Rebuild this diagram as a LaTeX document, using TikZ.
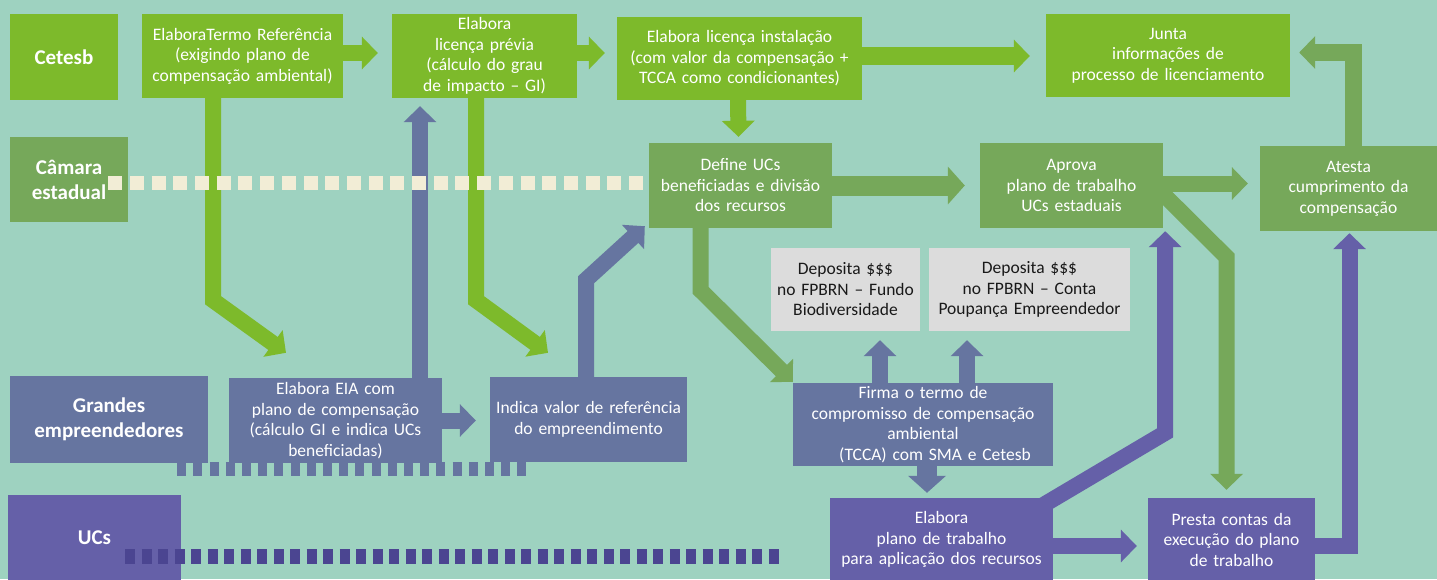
\documentclass[tikz,border=0pt]{standalone}
\usepackage{fontspec}
\setmainfont{Carlito}
\usetikzlibrary{arrows.meta,positioning,calc}
\definecolor{fundo}{HTML}{9ED2C0}
\definecolor{verdeclaro}{HTML}{7DBA2B}
\definecolor{verdeescuro}{HTML}{76A85A}
\definecolor{azul}{HTML}{6675A0}
\definecolor{roxo}{HTML}{6560A8}
\definecolor{roxoescuro}{HTML}{4B4591}
\definecolor{creme}{HTML}{F2EDD6}
\definecolor{cinza}{HTML}{DCDCDC}
\newcommand{\caixa}{\fontsize{17.5}{20.5}\selectfont}
\newcommand{\rotulo}{\fontsize{21}{25}\selectfont\bfseries}
\pgfdeclarelayer{bg}
\pgfsetlayers{bg,main}
\tikzstyle{Cetesb} = [rectangle, fill=verdeclaro, text=white, align=center,
inner sep=0pt, font=\caixa]
\tikzstyle{Camara} = [rectangle, fill=verdeescuro, text=white, align=center,
inner sep=0pt, font=\caixa]
\tikzstyle{Empreend} = [rectangle, fill=azul, text=white, align=center,
inner sep=0pt, font=\caixa]
\tikzstyle{UCs} = [rectangle, fill=roxo, text=white, align=center,
inner sep=0pt, font=\caixa]
\tikzstyle{Deposito} = [rectangle, fill=cinza, text=black!90, align=center,
inner sep=0pt, font=\caixa]
\tikzstyle{seta} = [draw, -{Triangle[width=32pt,length=16pt]}, line width=16pt]
\tikzstyle{setalarga} = [draw, -{Triangle[width=37pt,length=17pt]}, line width=20pt]

\begin{document}
\begin{tikzpicture}[x=1pt, y=-1pt]
			\useasboundingbox (0,0) rectangle (1437,579);
			% Place nodes
			\node [Cetesb, font=\rotulo, text width=108pt, minimum height=86pt] (cetesb) at (64,57) {Cetesb};
			\node [Cetesb, text width=201pt, minimum height=84pt] (termo) at (242.5,56)
			{ElaboraTermo Referência\\(exigindo plano de\\compensação ambiental)};
			\node [Cetesb, text width=185pt, minimum height=84pt] (previa) at (484.5,56)
			{Elabora\\licença prévia\\(cálculo do grau\\de impacto – GI)};
			\node [Cetesb, text width=245pt, minimum height=83pt] (instal) at (739.5,58.5)
			{Elabora licença instalação\\(com valor da compensação +\\TCCA como condicionantes)};
			\node [Cetesb, text width=244pt, minimum height=83pt] (junta) at (1168,55.5)
			{Junta\\informações de\\processo de licenciamento};
			\node [Camara, font=\rotulo, text width=118pt, minimum height=85pt] (camara) at (69,179.5) {Câmara\\estadual};
			\node [Camara, text width=183pt, minimum height=85pt] (define) at (740.5,185.5)
			{Define UCs\\beneficiadas e divisão\\dos recursos};
			\node [Camara, text width=183pt, minimum height=85pt] (aprova) at (1071.5,185.5)
			{Aprova\\plano de trabalho\\UCs estaduais};
			\node [Camara, text width=177pt, minimum height=85pt] (atesta) at (1348.5,188.5)
			{Atesta\\cumprimento da\\compensação};
			\node [Deposito, text width=149pt, minimum height=83pt] (dep1) at (845.5,289.5)
			{Deposita \$\$\$\\no FPBRN – Fundo\\Biodiversidade};
			\node [Deposito, text width=201pt, minimum height=83pt] (dep2) at (1029.5,289.5)
			{Deposita \$\$\$\\no FPBRN – Conta\\Poupança Empreendedor};
			\node [Empreend, font=\rotulo, text width=198pt, minimum height=87pt] (grandes) at (109,419.5) {Grandes\\empreendedores};
			\node [Empreend, text width=213pt, minimum height=85pt] (eia) at (335.5,420.5)
			{Elabora EIA com\\plano de compensação\\(cálculo GI e indica UCs\\beneficiadas)};
			\node [Empreend, text width=197pt, minimum height=85pt] (indica) at (588.5,419.5)
			{Indica valor de referência\\do empreendimento};
			\node [Empreend, text width=260pt, minimum height=83pt] (firma) at (923,424.5)
			{Firma o termo de\\compromisso de compensação\\ambiental\\\hspace*{24pt}(TCCA) com SMA e Cetesb};
			\node [UCs, font=\rotulo, text width=173pt, minimum height=86pt] (ucs) at (94.5,538) {UCs};
			\node [UCs, text width=223pt, minimum height=83pt] (plano) at (941.5,539.5)
			{Elabora\\plano de trabalho\\para aplicação dos recursos};
			\node [UCs, text width=167pt, minimum height=83pt] (presta) at (1231.5,539.5)
			{Presta contas da\\execução do plano\\de trabalho};
			\begin{pgfonlayer}{bg}
			\fill [fundo] (0,0) rectangle (1437,579);
			% Cetesb
			\path [seta, verdeclaro] ($(termo.east)+(-2,-3)$) -- ($(previa.west)+(-14,-3)$);
			\path [seta, verdeclaro] ($(previa.east)+(-2,-3)$) -- ($(instal.west)+(-12,-5.5)$);
			\path [seta, verdeclaro, line width=18pt] ($(instal.east)+(-2,-2.5)$) -- ($(junta.west)+(-16,0.5)$);
			\path [seta, verdeclaro] ($(instal.south)+(-1.5,-2)$) -- ($(define.north)+(-2,-6)$);
			\path [seta, verdeclaro] ($(termo.south)+(-29.5,-2)$) -- ++(0,204)
			-- ($(eia.north)+(-49.5,-25)$);
			\path [seta, verdeclaro] ($(previa.south)+(-8.5,-2)$) -- ++(0,204)
			-- ($(indica.north)+(-40.5,-24)$);
			% Camara estadual
			\path [setalarga, verdeescuro] ($(define.east)+(-2,0)$) -- ($(aprova.west)+(-15,0)$);
			\path [seta, verdeescuro] ($(aprova.east)+(-2,-2)$) -- ($(atesta.west)+(-12,-5)$);
			\path [seta, verdeescuro, line width=17pt] ($(atesta.north)+(5,2)$) |- ($(junta.east)+(9,-3)$);
			\path [seta, verdeescuro] ($(define.south)+(-40,-2)$) -- ++(0,64)
			-- ($(firma.north west)+(0,-1)$);
			\path [seta, verdeescuro] ($(aprova.south east)+(-14,-48)$) -- ++(77.5,77)
			-- ($(presta.north)+(-5,-8)$);
			% Grandes empreendedores
			\path [seta, azul] ($(eia.north)+(84.5,2)$) -- ($(previa.south)+(-64.5,8)$);
			\path [seta, azul] ($(eia.east)+(-2,0)$) -- ($(indica.west)+(-14,1)$);
			\path [seta, azul] ($(indica.north)+(-2.5,2)$) -- ++(0,-99)
			-- ($(define.south west)+(-4,-2)$);
			\path [seta, azul] ($(firma.north)+(-43,2)$) -- ($(dep1.south)+(34.5,9)$);
			\path [seta, azul] ($(firma.north)+(44,2)$) -- ($(dep2.south)+(-62.5,9)$);
			\path [setalarga, azul] ($(firma.south)+(4,-2)$) -- ($(plano.north)+(-14.5,-5)$);
			% UCs
			\path [seta, roxo] ($(plano.north east)+(-23,15)$) -- ++(135,-80)
			-- ($(aprova.south east)+(2,3)$);
			\path [seta, roxo] ($(plano.east)+(-2,6.5)$) -- ($(presta.west)+(-11,6.5)$);
			\path [seta, roxo] ($(presta.east)+(-2,6.5)$) -| ($(atesta.south)+(1,2)$);
			\end{pgfonlayer}
			% linhas tracejadas
			\draw [creme, line width=14pt, dash pattern=on 14pt off 7.7pt]
			($(camara.east)+(-20,3)$) -- ($(define.west)+(0,-3)$);
			\draw [azul, line width=14pt, dash pattern=on 9pt off 7.2pt]
			($(grandes.south east)+(-31,6)$) -- ($(indica.south west)+(43,7)$);
			\draw [roxoescuro, line width=15pt, dash pattern=on 10pt off 6.5pt]
			($(ucs.east)+(-56,18.5)$) -- ($(plano.west)+(-45,17)$);
\end{tikzpicture}
\end{document}
